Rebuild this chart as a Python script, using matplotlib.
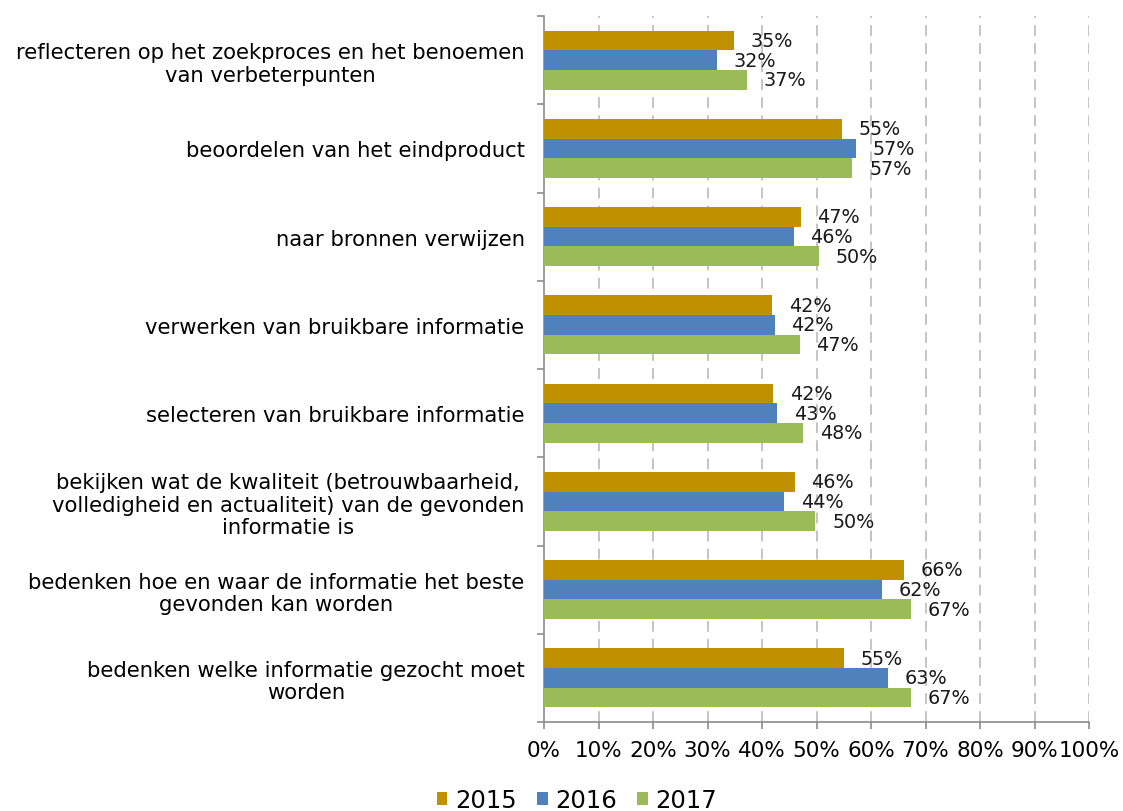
import numpy as np
import matplotlib.pyplot as plt
from matplotlib.ticker import FuncFormatter

categories = [
    "reflecteren op het zoekproces en het benoemen\nvan verbeterpunten",
    "beoordelen van het eindproduct",
    "naar bronnen verwijzen",
    "verwerken van bruikbare informatie",
    "selecteren van bruikbare informatie",
    "bekijken wat de kwaliteit (betrouwbaarheid,\nvolledigheid en actualiteit) van de gevonden\ninformatie is",
    "bedenken hoe en waar de informatie het beste\ngevonden kan worden",
    "bedenken welke informatie gezocht moet\nworden",
]
years = ["2015", "2016", "2017"]
v2015 = [34.9, 54.6, 47.1, 41.9, 42.1, 46.0, 66.0, 55.0]
v2016 = [31.8, 57.2, 45.8, 42.3, 42.8, 44.1, 62.1, 63.1]
v2017 = [37.3, 56.6, 50.4, 46.9, 47.6, 49.8, 67.3, 67.4]
colors = ["#BF9000", "#4F81BD", "#9BBB59"]

plt.rcParams['font.family'] = 'DejaVu Sans'
fig = plt.figure(figsize=(11.23, 8.12), dpi=100)
ax = fig.add_axes([544/1123, 1-723/812, (1089-544)/1123, (723-17)/812])

n = len(categories)
y = np.arange(n)
h = 0.223
series = [v2015, v2016, v2017]
for i, vals in enumerate(series):
    pos = y + (i - 1) * h
    bars = ax.barh(pos, vals, height=h, color=colors[i], label=years[i], zorder=3)
    for b, v in zip(bars, vals):
        ax.annotate(f"{v:.0f}%", (v, b.get_y() + h/2), xytext=(12, 0),
                    textcoords='offset points', va='center', ha='left',
                    fontsize=13.8, color='#1a1a1a', zorder=4)

ax.set_xlim(0, 100)
ax.set_ylim(n - 0.5, -0.5)
ax.set_xticks(np.arange(0, 101, 10))
ax.xaxis.set_major_formatter(FuncFormatter(lambda x, p: f"{x:.0f}%"))
ax.tick_params(axis='x', labelsize=15.5, length=5, width=1.2, color='#8c8c8c', pad=8)
ax.set_yticks(y)
ax.set_yticklabels(categories, fontsize=15.2)
for lab in ax.get_yticklabels():
    lab.set_multialignment('center')
    lab.set_linespacing(1.15)
ax.tick_params(axis='y', which='major', length=0, pad=14)
ax.set_yticks(np.arange(-0.5, n), minor=True)
ax.tick_params(axis='y', which='minor', length=5, width=1.2, color='#8c8c8c')

for x in range(10, 101, 10):
    ax.axvline(x, color='#bfbfbf', lw=1.3, ls=(0, (6, 4)), zorder=1)

for s in ['top', 'right']:
    ax.spines[s].set_visible(False)
ax.spines['left'].set_color('#8c8c8c')
ax.spines['bottom'].set_color('#8c8c8c')
ax.spines['left'].set_linewidth(1.2)
ax.spines['bottom'].set_linewidth(1.2)

fig.legend(loc='center', bbox_to_anchor=(577/1123, 1-801/812), ncol=3, frameon=False,
           fontsize=17.5, handlelength=0.45, handleheight=0.45, handletextpad=0.33,
           columnspacing=0.8)

fig.savefig("out.png", dpi=100)
